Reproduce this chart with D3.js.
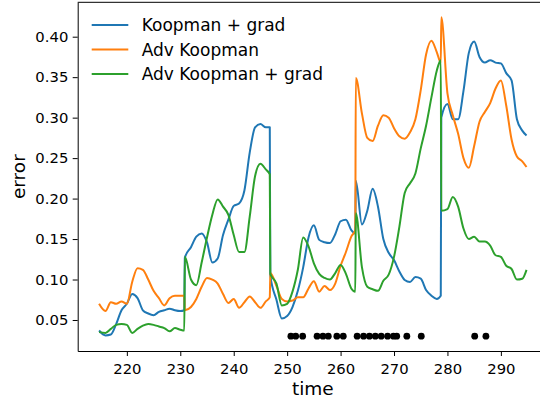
<!DOCTYPE html>
<html>
<head>
<meta charset="utf-8">
<script src="https://d3js.org/d3.v7.min.js"></script>
<style>
  html, body { margin: 0; padding: 0; background: #fff; overflow: hidden; }
  svg { display: block; }
  text { font-family: 'DejaVu Sans', sans-serif; fill: #000; }
</style>
</head>
<body>
<svg width="540" height="404"></svg>
<script>
      // shared time grid; the x.75 / x.85 pairs are the jumps between segments
      const time = [
        214.8, 216, 217, 218, 219, 220, 221, 222, 223, 224, 225, 226, 227, 228, 229, 230, 230.75,
        230.85, 232, 233, 234, 235, 236, 237, 238, 239, 240, 241, 242, 243, 244, 245, 246, 246.75,
        246.85, 248, 249, 250, 251, 252, 253, 254, 255, 256, 257, 258, 259, 260, 261, 262, 262.75,
        262.85, 264, 265, 266, 267, 268, 269, 270, 271, 272, 273, 274, 275, 276, 277, 278, 278.75,
        278.85, 280, 281, 282, 283, 284, 285, 286, 287, 288, 289, 290, 291, 292, 293, 294, 294.8
      ];
      const koopmanGrad = [
        0.037, 0.031, 0.032, 0.045, 0.062, 0.070, 0.082, 0.077, 0.062, 0.058, 0.056, 0.060, 0.062, 0.064, 0.062, 0.061, 0.062,
        0.127, 0.140, 0.153, 0.157, 0.146, 0.121, 0.126, 0.155, 0.174, 0.191, 0.194, 0.210, 0.257, 0.288, 0.292, 0.288, 0.288,
        0.105, 0.075, 0.052, 0.055, 0.066, 0.086, 0.115, 0.152, 0.167, 0.149, 0.146, 0.145, 0.156, 0.172, 0.174, 0.161, 0.157,
        0.222, 0.168, 0.185, 0.212, 0.190, 0.150, 0.133, 0.124, 0.110, 0.0995, 0.097, 0.103, 0.101, 0.087, 0.080, 0.076, 0.080,
        0.300, 0.317, 0.298, 0.298, 0.333, 0.380, 0.394, 0.375, 0.368, 0.371, 0.368, 0.367, 0.355, 0.346, 0.298, 0.284, 0.278
      ];
      const advKoopman = [
        0.070, 0.061, 0.072, 0.070, 0.073, 0.070, 0.097, 0.114, 0.112, 0.100, 0.086, 0.077, 0.068, 0.077, 0.080, 0.080, 0.080,
        0.062, 0.066, 0.076, 0.091, 0.102, 0.100, 0.095, 0.082, 0.071, 0.076, 0.065, 0.072, 0.079, 0.072, 0.065, 0.073, 0.078,
        0.108, 0.092, 0.076, 0.073, 0.074, 0.078, 0.078, 0.089, 0.098, 0.085, 0.092, 0.087, 0.095, 0.117, 0.134, 0.153, 0.161,
        0.349, 0.305, 0.275, 0.271, 0.290, 0.303, 0.300, 0.287, 0.277, 0.274, 0.282, 0.298, 0.334, 0.378, 0.395, 0.381, 0.368,
        0.424, 0.330, 0.303, 0.280, 0.250, 0.238, 0.265, 0.295, 0.307, 0.318, 0.336, 0.346, 0.315, 0.273, 0.252, 0.246, 0.239
      ];
      const advKoopmanGrad = [
        0.035, 0.034, 0.039, 0.044, 0.045, 0.044, 0.034, 0.039, 0.043, 0.045, 0.044, 0.042, 0.040, 0.036, 0.040, 0.038, 0.037,
        0.128, 0.100, 0.093, 0.121, 0.152, 0.180, 0.199, 0.190, 0.180, 0.155, 0.134, 0.134, 0.178, 0.228, 0.243, 0.236, 0.230,
        0.107, 0.095, 0.068, 0.070, 0.085, 0.112, 0.152, 0.141, 0.120, 0.107, 0.102, 0.100, 0.108, 0.118, 0.107, 0.089, 0.085,
        0.182, 0.115, 0.091, 0.088, 0.086, 0.0985, 0.106, 0.128, 0.165, 0.207, 0.219, 0.231, 0.262, 0.290, 0.325, 0.358, 0.371,
        0.185, 0.187, 0.202, 0.190, 0.163, 0.150, 0.153, 0.147, 0.147, 0.142, 0.130, 0.128, 0.117, 0.113, 0.100, 0.101, 0.112
      ];
      const eventTimes = [
        250.7, 251.6, 252.9, 255.6, 256.7, 257.7, 259.3, 260.5, 263.1, 264.3,
        265.4, 266.5, 267.6, 268.8, 269.9, 270.5, 272.4, 275.1, 285.1, 287.2
      ];
      const eventLevel = 0.03;
      const seriesNames = ['Koopman + grad', 'Adv Koopman', 'Adv Koopman + grad'];
      const seriesValues = [koopmanGrad, advKoopman, advKoopmanGrad];
      const seriesColors = ['#1f77b4', '#ff7f0e', '#2ca02c'];
      const xTickValues = [220, 230, 240, 250, 260, 270, 280, 290];
      const yTickValues = [0.05, 0.10, 0.15, 0.20, 0.25, 0.30, 0.35, 0.40];
      const xLabel = 'time';
      const yLabel = 'error';

      const margin = { left: 77.7, top: 2.3 };
      const innerWidth = 470.2;
      const innerHeight = 348.7;

      const svg = d3.select('svg');
      const g = svg.append('g')
          .attr('transform', `translate(${margin.left},${margin.top})`);

      const xScale = d3.scaleLinear()
        .domain([210.8, 298.8])
        .range([0, innerWidth]);
      const yScale = d3.scaleLinear()
        .domain([0.0117, 0.4425])
        .range([innerHeight, 0]);

      const line = d3.line()
        .x(d => xScale(d[0]))
        .y(d => yScale(d[1]))
        .curve(d3.curveMonotoneX);

      seriesValues.forEach((values, i) => {
        g.append('path')
          .datum(time.map((t, j) => [t, values[j]]))
          .attr('fill', 'none')
          .attr('stroke', seriesColors[i])
          .attr('stroke-width', 2)
          .attr('stroke-linejoin', 'round')
          .attr('d', line);
      });

      g.selectAll('circle.event').data(eventTimes)
        .enter().append('circle')
          .attr('class', 'event')
          .attr('cx', d => xScale(d))
          .attr('cy', yScale(eventLevel))
          .attr('r', 3.4)
          .attr('fill', '#000');

      const xAxis = d3.axisBottom(xScale)
        .tickValues(xTickValues)
        .tickFormat(d3.format('d'))
        .tickSize(5)
        .tickSizeOuter(0)
        .tickPadding(7.3);
      const yAxis = d3.axisLeft(yScale)
        .tickValues(yTickValues)
        .tickFormat(d3.format('.2f'))
        .tickSize(5)
        .tickSizeOuter(0)
        .tickPadding(4.4);

      const xAxisG = g.append('g')
          .attr('transform', `translate(0, ${innerHeight})`)
          .call(xAxis);
      const yAxisG = g.append('g').call(yAxis);

      [xAxisG, yAxisG].forEach(a => {
        a.selectAll('text')
          .attr('font-size', 14.8)
          .attr('font-family', "'DejaVu Sans', sans-serif");
        a.selectAll('line, path').attr('stroke', '#000').attr('stroke-width', 1);
      });

      // top and right spines
      g.append('line')
        .attr('x1', 0).attr('x2', innerWidth)
        .attr('y1', 0).attr('y2', 0)
        .attr('stroke', '#000');
      g.append('line')
        .attr('x1', innerWidth).attr('x2', innerWidth)
        .attr('y1', 0).attr('y2', innerHeight)
        .attr('stroke', '#000');

      g.append('text')
        .attr('x', innerWidth / 2)
        .attr('y', innerHeight + 44.5)
        .attr('text-anchor', 'middle')
        .attr('font-size', 18.5)
        .text(xLabel);

      g.append('text')
        .attr('transform', `translate(${25 - margin.left}, ${innerHeight / 2}) rotate(-90)`)
        .attr('text-anchor', 'middle')
        .attr('font-size', 18.5)
        .text(yLabel);

      const legend = svg.append('g')
          .attr('transform', 'translate(91.7, 25)');
      seriesNames.forEach((name, i) => {
        const row = legend.append('g')
            .attr('transform', `translate(0, ${i * 24.5})`);
        row.append('line')
          .attr('x1', 0).attr('x2', 36.6)
          .attr('y1', 0).attr('y2', 0)
          .attr('stroke', seriesColors[i])
          .attr('stroke-width', 2);
        row.append('text')
          .attr('x', 50)
          .attr('y', 6)
          .attr('font-size', 17)
          .text(name);
      });
</script>
</body>
</html>
